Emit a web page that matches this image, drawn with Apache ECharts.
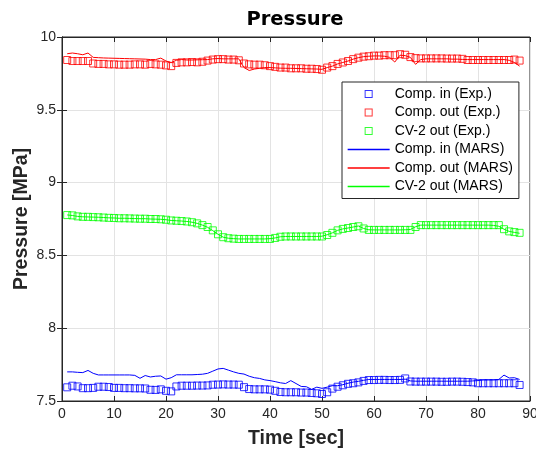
<!DOCTYPE html>
<html>
<head>
<meta charset="utf-8">
<script src="https://cdn.jsdelivr.net/npm/echarts@6/dist/echarts.min.js"></script>
<style>html,body{margin:0;padding:0;background:#fff}#c{width:536px;height:452px}</style>
</head>
<body>
<div id="c"></div>
<script>
const time = [1,2,3,4,5,6,7,8,9,10,11,12,13,14,15,16,17,18,19,20,21,22,23,24,25,26,27,28,29,30,
31,32,33,34,35,36,37,38,39,40,41,42,43,44,45,46,47,48,49,50,51,52,53,54,55,56,57,58,59,60,
61,62,63,64,65,66,67,68,69,70,71,72,73,74,75,76,77,78,79,80,81,82,83,84,85,86,87,88];

const compInExp = [7.594,7.605,7.600,7.588,7.588,7.590,7.598,7.598,7.596,7.590,7.590,7.588,7.588,7.587,7.587,7.586,7.577,7.576,7.580,7.570,
7.566,7.600,7.605,7.605,7.605,7.606,7.606,7.607,7.612,7.613,7.614,7.613,7.613,7.612,7.595,7.582,7.580,7.580,7.580,7.578,
7.570,7.562,7.560,7.560,7.560,7.558,7.558,7.555,7.553,7.548,7.560,7.585,7.598,7.608,7.618,7.622,7.628,7.638,7.644,7.644,
7.645,7.645,7.644,7.644,7.645,7.655,7.634,7.633,7.633,7.633,7.633,7.633,7.632,7.632,7.633,7.633,7.632,7.630,7.628,7.622,
7.622,7.622,7.622,7.622,7.622,7.622,7.622,7.610];

const compOutExp = [9.842,9.835,9.835,9.835,9.835,9.818,9.815,9.815,9.812,9.812,9.810,9.810,9.810,9.812,9.812,9.810,9.815,9.812,9.810,9.805,
9.800,9.822,9.826,9.826,9.828,9.826,9.830,9.838,9.845,9.848,9.848,9.845,9.845,9.840,9.818,9.812,9.810,9.810,9.806,9.800,
9.795,9.790,9.790,9.785,9.785,9.785,9.782,9.782,9.780,9.775,9.790,9.800,9.815,9.825,9.835,9.848,9.858,9.865,9.868,9.872,
9.872,9.875,9.875,9.875,9.882,9.878,9.862,9.855,9.853,9.853,9.853,9.853,9.853,9.852,9.852,9.852,9.850,9.842,9.842,9.842,
9.842,9.842,9.842,9.842,9.842,9.842,9.845,9.838];

const cv2OutExp = [8.777,8.775,8.768,8.765,8.765,8.763,8.762,8.760,8.758,8.757,8.755,8.755,8.754,8.753,8.752,8.752,8.750,8.750,8.748,8.745,
8.740,8.738,8.736,8.733,8.728,8.720,8.708,8.695,8.672,8.645,8.625,8.618,8.615,8.613,8.613,8.613,8.613,8.613,8.613,8.613,
8.620,8.628,8.630,8.630,8.630,8.630,8.630,8.630,8.630,8.630,8.640,8.655,8.672,8.682,8.688,8.695,8.700,8.685,8.675,8.675,
8.675,8.675,8.675,8.675,8.675,8.675,8.675,8.695,8.708,8.708,8.708,8.708,8.708,8.708,8.708,8.708,8.708,8.708,8.708,8.708,
8.708,8.708,8.708,8.708,8.680,8.665,8.660,8.655];

const compInMars = [7.700,7.700,7.697,7.695,7.710,7.690,7.679,7.679,7.679,7.679,7.679,7.679,7.679,7.676,7.656,7.675,7.665,7.670,7.672,7.650,
7.660,7.680,7.680,7.680,7.680,7.682,7.684,7.690,7.705,7.720,7.724,7.712,7.700,7.690,7.685,7.670,7.660,7.655,7.645,7.640,
7.633,7.625,7.620,7.640,7.620,7.600,7.598,7.580,7.595,7.587,7.595,7.605,7.605,7.612,7.622,7.630,7.635,7.642,7.648,7.648,
7.648,7.648,7.648,7.648,7.648,7.650,7.638,7.636,7.636,7.636,7.636,7.636,7.636,7.636,7.636,7.636,7.636,7.636,7.638,7.640,
7.645,7.645,7.645,7.648,7.678,7.658,7.660,7.648];

const compOutMars = [9.885,9.890,9.885,9.878,9.890,9.860,9.858,9.856,9.855,9.854,9.853,9.852,9.851,9.850,9.849,9.848,9.845,9.845,9.855,9.835,
9.825,9.840,9.845,9.842,9.842,9.843,9.844,9.845,9.850,9.852,9.850,9.850,9.850,9.850,9.790,9.770,9.780,9.785,9.790,9.790,
9.788,9.786,9.785,9.785,9.784,9.783,9.782,9.781,9.780,9.778,9.790,9.800,9.815,9.825,9.835,9.848,9.858,9.865,9.868,9.870,
9.870,9.868,9.860,9.828,9.875,9.872,9.860,9.812,9.845,9.850,9.850,9.850,9.850,9.850,9.848,9.848,9.846,9.845,9.845,9.845,
9.845,9.845,9.845,9.845,9.845,9.840,9.825,9.800];

const cv2OutMars = [8.778,8.774,8.768,8.765,8.764,8.763,8.762,8.760,8.758,8.757,8.755,8.755,8.754,8.753,8.752,8.752,8.750,8.749,8.748,8.745,
8.740,8.738,8.736,8.733,8.728,8.720,8.708,8.693,8.670,8.645,8.625,8.618,8.615,8.613,8.613,8.613,8.613,8.613,8.613,8.615,
8.620,8.628,8.630,8.630,8.630,8.630,8.630,8.630,8.630,8.632,8.642,8.655,8.672,8.682,8.688,8.695,8.702,8.685,8.676,8.675,
8.675,8.675,8.675,8.675,8.675,8.676,8.678,8.697,8.708,8.708,8.708,8.708,8.708,8.708,8.708,8.708,8.708,8.708,8.708,8.708,
8.708,8.708,8.706,8.700,8.680,8.665,8.658,8.652];

const xTicks = {min: 0, max: 90, interval: 10};
const yTicks = {min: 7.5, max: 10, interval: 0.5};

const BLUE = '#0000ff', RED = '#ff0000', GREEN = '#00ff00';
const TXT = '#262626';
const FONT = 'Liberation Sans';

function pairs(vals){ return time.map((t,i)=>[t, vals[i]]); }

const chart = echarts.init(document.getElementById('c'), null, {renderer:'canvas'});

function expSeries(name, vals, color){
  return {name, type:'scatter', data:pairs(vals), symbol:'rect', symbolSize:7,
    itemStyle:{color:'rgba(0,0,0,0)', borderColor:color, borderWidth:1},
    emphasis:{disabled:true}, z:2};
}
function marsSeries(name, vals, color){
  return {name, type:'line', data:pairs(vals), symbol:'none', showSymbol:false,
    color:color, lineStyle:{color, width:1}, itemStyle:{color}, emphasis:{disabled:true}, z:3};
}

const squareIcon = 'path://M0,0H10V10H0Z M1.2,1.2V8.8H8.8V1.2Z';
const hidden = {color:'rgba(0,0,0,0)', borderColor:'rgba(0,0,0,0)', borderWidth:0};

chart.setOption({
  animation:false,
  backgroundColor:'#fff',
  color:[BLUE, RED, GREEN, BLUE, RED, GREEN],
  graphic:[{type:'text', x:295, y:20, z:10,
    style:{text:'Pressure', textAlign:'center', textVerticalAlign:'middle',
      font:'bold 19.5px "DejaVu Sans"', fill:'#000'}}],
  grid:{left:62, right:6, top:37, bottom:51, show:true, borderColor:TXT, borderWidth:1,
    backgroundColor:'#fff', containLabel:false, outerBoundsMode:'none'},
  legend:{
    orient:'vertical', left:342, top:82,
    padding:[5,6,5,5], itemGap:4.5, itemWidth:42, itemHeight:8,
    backgroundColor:'#fff', borderColor:TXT, borderWidth:1,
    textStyle:{fontFamily:FONT, fontSize:14, color:'#000'},
    selectedMode:false,
    data:[
      {name:'Comp. in (Exp.)', icon:squareIcon, itemStyle:{color:BLUE, borderWidth:0}},
      {name:'Comp. out (Exp.)', icon:squareIcon, itemStyle:{color:RED, borderWidth:0}},
      {name:'CV-2 out (Exp.)', icon:squareIcon, itemStyle:{color:GREEN, borderWidth:0}},
      {name:'Comp. in (MARS)', itemStyle:hidden, lineStyle:{color:BLUE, width:1.3}},
      {name:'Comp. out (MARS)', itemStyle:hidden, lineStyle:{color:RED, width:1.3}},
      {name:'CV-2 out (MARS)', itemStyle:hidden, lineStyle:{color:GREEN, width:1.3}}
    ]
  },
  xAxis:[
    {type:'value', min:xTicks.min, max:xTicks.max, interval:xTicks.interval, position:'bottom',
      name:'Time [sec]', nameLocation:'middle', nameGap:28, nameMoveOverlap:false,
      nameTextStyle:{fontFamily:FONT, fontSize:19.5, fontWeight:'bold', color:TXT},
      axisLine:{show:true, lineStyle:{color:TXT, width:1}},
      axisTick:{show:true, inside:true, length:5, lineStyle:{color:TXT}},
      axisLabel:{fontFamily:FONT, fontSize:14, color:TXT, margin:6},
      splitLine:{show:true, lineStyle:{color:'#e3e3e3', width:1}}},
    {type:'value', min:xTicks.min, max:xTicks.max, interval:xTicks.interval, position:'top',
      axisLine:{show:true, lineStyle:{color:TXT, width:1}},
      axisTick:{show:true, inside:true, length:5, lineStyle:{color:TXT}},
      axisLabel:{show:false}, splitLine:{show:false}}
  ],
  yAxis:[
    {type:'value', min:yTicks.min, max:yTicks.max, interval:yTicks.interval, position:'left',
      name:'Pressure [MPa]', nameLocation:'middle', nameGap:30, nameMoveOverlap:false,
      nameTextStyle:{fontFamily:FONT, fontSize:19.5, fontWeight:'bold', color:TXT},
      axisLine:{show:true, lineStyle:{color:TXT, width:1}},
      axisTick:{show:true, inside:true, length:5, lineStyle:{color:TXT}},
      axisLabel:{fontFamily:FONT, fontSize:14, color:TXT, margin:6},
      splitLine:{show:true, lineStyle:{color:'#e3e3e3', width:1}}},
    {type:'value', min:yTicks.min, max:yTicks.max, interval:yTicks.interval, position:'right',
      axisLine:{show:true, lineStyle:{color:TXT, width:1}},
      axisTick:{show:true, inside:true, length:5, lineStyle:{color:TXT}},
      axisLabel:{show:false}, splitLine:{show:false}}
  ],
  series:[
    expSeries('Comp. in (Exp.)', compInExp, BLUE),
    expSeries('Comp. out (Exp.)', compOutExp, RED),
    expSeries('CV-2 out (Exp.)', cv2OutExp, GREEN),
    marsSeries('Comp. in (MARS)', compInMars, BLUE),
    marsSeries('Comp. out (MARS)', compOutMars, RED),
    marsSeries('CV-2 out (MARS)', cv2OutMars, GREEN)
  ]
});
</script>
</body>
</html>
